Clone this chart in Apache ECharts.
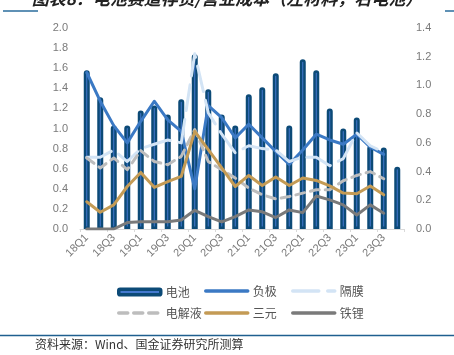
<!DOCTYPE html>
<html><head><meta charset="utf-8">
<script src="https://cdn.jsdelivr.net/npm/echarts@6/dist/echarts.min.js"></script>
<style>html,body{margin:0;padding:0;background:#fff}#c{width:454px;height:355px}</style>
</head><body><div id="c"></div>
<script>
const categories = ['18Q1','18Q2','18Q3','18Q4','19Q1','19Q2','19Q3','19Q4','20Q1','20Q2','20Q3','20Q4','21Q1','21Q2','21Q3','21Q4','22Q1','22Q2','22Q3','22Q4','23Q1','23Q2','23Q3','23Q4'];
const battery = [1.58,1.31,1.03,1.03,1.18,1.23,1.14,1.29,1.74,1.39,1.14,1.03,1.34,1.41,1.55,1.03,1.69,1.58,1.20,1.00,1.11,0.83,0.81,0.62];
const anode = [1.09,0.89,0.72,0.60,0.75,0.89,0.76,0.68,0.28,0.86,0.775,0.635,0.73,0.635,0.54,0.45,0.55,0.66,0.62,0.59,0.66,0.57,0.52,null];
const separator = [0.50,0.50,0.55,0.47,0.56,0.59,0.62,0.60,1.22,0.81,0.66,0.53,0.58,0.56,0.55,0.47,0.50,0.50,0.44,0.49,0.67,0.58,0.535,null];
const electrolyte = [0.495,0.425,0.495,0.413,0.546,0.47,0.448,0.506,0.693,0.47,0.413,0.355,0.285,0.238,0.21,0.226,0.25,0.273,0.273,0.336,0.373,0.40,0.35,null];
const ternary = [0.19,0.117,0.168,0.296,0.394,0.29,0.33,0.366,0.68,0.553,0.425,0.296,0.373,0.303,0.362,0.303,0.355,0.338,0.30,0.25,0.245,0.30,0.238,null];
const lfp = [0,0,0,0.045,0.05,0.05,0.05,0.063,0.13,0.086,0.05,0.086,0.133,0.12,0.08,0.133,0.114,0.23,0.203,0.168,0.098,0.168,0.11,null];
const leftTicks = [0, 2.0, 0.2];
const rightTicks = [0, 1.4, 0.2];

const chart = echarts.init(document.getElementById('c'), null, {renderer:'canvas'});
const font = 'Liberation Sans, Arial, sans-serif';
const cjk = 'Noto Sans CJK SC, sans-serif';
function lineSeries(name, data, color, type){
  return {name, type:'line', yAxisIndex:1, data, symbol:'none', showSymbol:false,
    lineStyle:{color, width:3, type:type||'solid', cap:'round', join:'round'},
    itemStyle:{color}};
}
function lg(name, left, top, h, isBar){
  const o = {data:[name], left, top, padding:0, itemWidth:42, itemHeight:h||12, itemGap:0,
    textStyle:{fontSize:12, color:'#555', fontFamily:cjk}};
  if(!isBar){ o.itemStyle = {opacity:0}; o.lineStyle = {width:3.5, cap:'round'}; }
  else { o.itemStyle = {borderWidth:3.5, borderRadius:3}; }
  return o;
}
chart.setOption({
  animation:false,
  grid:{left:80, right:50, top:28, bottom:126},
  legend:[lg('电池',117,286,5.5,true), lg('负极',204,285), lg('隔膜',291,285),
          lg('电解液',117,307), lg('三元',204,307), lg('铁锂',291,307)],
  xAxis:{type:'category', data:categories, boundaryGap:true,
    axisLine:{lineStyle:{color:'#d9d9d9', width:1}},
    axisTick:{show:true, alignWithLabel:false, length:3, lineStyle:{color:'#d9d9d9'}},
    axisLabel:{interval:1, rotate:45, fontSize:11, color:'#7a7a7a', fontFamily:font, margin:7}},
  yAxis:[
    {type:'value', min:leftTicks[0], max:leftTicks[1], interval:leftTicks[2],
     splitLine:{show:false}, axisLine:{show:false}, axisTick:{show:false},
     axisLabel:{fontSize:11, color:'#7a7a7a', fontFamily:font, margin:12, formatter:v=>v.toFixed(1)}},
    {type:'value', min:rightTicks[0], max:rightTicks[1], interval:rightTicks[2],
     splitLine:{show:false}, axisLine:{show:false}, axisTick:{show:false},
     axisLabel:{fontSize:11, color:'#7a7a7a', fontFamily:font, margin:12, formatter:v=>v.toFixed(1)}}
  ],
  series:[
    {name:'电池', type:'bar', data:battery, barWidth:6,
     itemStyle:{color:'#4479cf', borderColor:'#0c4a77', borderWidth:2.5, borderRadius:[3,3,0,0]}},
    lineSeries('负极', anode, '#3b79c4'),
    lineSeries('隔膜', separator, '#d3e4f5', [26,9]),
    lineSeries('电解液', electrolyte, '#bdbdbd', [9,6]),
    lineSeries('三元', ternary, '#c49b55'),
    lineSeries('铁锂', lfp, '#7a7a7a')
  ],
  graphic:[
    {type:'text', left:'center', top:-10, style:{text:'图表8：电池赛道存货/营业成本（左材料，右电池）', fontSize:17, fontWeight:'bold', fontStyle:'italic', fill:'#222', fontFamily:cjk}},
    {type:'line', shape:{x1:3,y1:11,x2:38,y2:11}, style:{stroke:'#2a6c9c', lineWidth:1.5}},
    {type:'line', shape:{x1:445,y1:11,x2:454,y2:11}, style:{stroke:'#2a6c9c', lineWidth:1.5}},
    {type:'line', shape:{x1:0,y1:335.5,x2:454,y2:335.5}, style:{stroke:'#1f5f8f', lineWidth:1.5}},
    {type:'text', left:35, top:338, style:{text:'资料来源：Wind、国金证券研究所测算', fontSize:12, fill:'#333', fontFamily:cjk}}
  ]
});
</script></body></html>
